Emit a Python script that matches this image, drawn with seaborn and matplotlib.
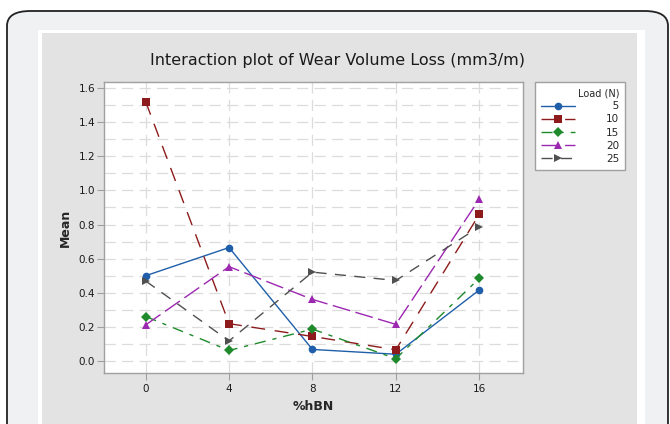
import matplotlib
matplotlib.use("Agg")
import matplotlib.pyplot as plt
from matplotlib.patches import FancyBboxPatch, Rectangle
from matplotlib.ticker import MultipleLocator
import seaborn as sns
import pandas as pd

hbn = [0, 4, 8, 12, 16]
loads = ["5", "10", "15", "20", "25"]
mean_5 = [0.50, 0.665, 0.068, 0.040, 0.416]
mean_10 = [1.52, 0.219, 0.144, 0.066, 0.859]
mean_15 = [0.261, 0.062, 0.187, 0.014, 0.484]
mean_20 = [0.212, 0.553, 0.361, 0.215, 0.948]
mean_25 = [0.469, 0.118, 0.521, 0.472, 0.786]
series = [mean_5, mean_10, mean_15, mean_20, mean_25]

rows = []
for ld, vals in zip(loads, series):
    for x, v in zip(hbn, vals):
        rows.append({"%hBN": x, "Mean": v, "Load": ld})
df = pd.DataFrame(rows)

palette = {"5": "#1F5FAA", "10": "#8E1B1B", "15": "#1E8A2B", "20": "#9C27B0", "25": "#505050"}
markers = {"5": "o", "10": "s", "15": "D", "20": "^", "25": ">"}
dashes = {"5": "", "10": (10, 7), "15": (8, 5, 3, 5), "20": (13, 4), "25": (8, 6)}

sns.set_style("white")
plt.rcParams["font.family"] = ["DejaVu Sans"]

W, H = 670, 424
fig = plt.figure(figsize=(W / 100, H / 100), dpi=100)
fig.patch.set_facecolor("white")

def fx(px):
    return px / W

def fy(py):
    return 1 - py / H

# card background with rounded border
card = FancyBboxPatch((fx(7), fy(440)), fx(668) - fx(7), fy(11) - fy(440),
                      boxstyle="round,pad=0,rounding_size=0.035",
                      transform=fig.transFigure, facecolor="#f0f1f3",
                      edgecolor="#222222", linewidth=1.3, zorder=0)
fig.patches.append(card)
fig.patches.append(Rectangle((fx(38), 0), fx(645) - fx(38), fy(30), transform=fig.transFigure,
                             facecolor="white", edgecolor="none", zorder=0.5))
fig.patches.append(Rectangle((fx(42), 0), fx(637) - fx(42), fy(33), transform=fig.transFigure,
                             facecolor="#e3e3e3", edgecolor="none", zorder=0.6))

ax = fig.add_axes([fx(104), fy(373), fx(523) - fx(104), fy(82) - fy(373)])
ax.set_zorder(3)
ax.set_facecolor("white")

sns.lineplot(data=df, x="%hBN", y="Mean", hue="Load", style="Load",
             hue_order=loads, style_order=loads, palette=palette,
             markers=markers, dashes=dashes, markersize=5.5, linewidth=1.0,
             markeredgewidth=0, legend=False, ax=ax)

ax.set_xlim(-2.0, 18.1)
ax.set_ylim(-0.070, 1.635)
ax.set_xticks(hbn)
ax.set_xticklabels([str(v) for v in hbn])
ax.yaxis.set_major_locator(MultipleLocator(0.2))
ax.yaxis.set_minor_locator(MultipleLocator(0.1))
ax.yaxis.set_major_formatter(matplotlib.ticker.FormatStrFormatter("%.1f"))
ax.grid(True, which="both", axis="y", color="#dcdcdc", linestyle=(0, (9, 5)), linewidth=0.9)
ax.grid(True, which="major", axis="x", color="#dcdcdc", linestyle=(0, (9, 5)), linewidth=0.9)
ax.set_axisbelow(True)
ax.tick_params(axis="both", which="major", direction="out", length=5, width=0.8,
               color="#a0a0a0", labelsize=7.5, labelcolor="#1a1a1a", pad=1.5, left=True, bottom=True)
ax.tick_params(axis="x", which="major", pad=3)
ax.tick_params(axis="y", which="minor", length=0, left=False)
for s in ax.spines.values():
    s.set_color("#a0a0a0")
    s.set_linewidth(1.0)

ax.set_xlabel("%hBN", fontsize=9, fontweight="bold", labelpad=4)
ax.set_ylabel("Mean", fontsize=9, fontweight="bold", labelpad=5)

fig.text(fx(337), fy(60), "Interaction plot of Wear Volume Loss (mm3/m)",
         ha="center", va="center", fontsize=11.5, color="#1a1a1a", zorder=4)

handles = ax.get_lines()[:5]
labels = ["\u2007" + l if len(l) == 1 else l for l in loads]
leg = fig.legend(handles, labels, title="Load (N)", loc="upper left",
                 bbox_to_anchor=(fx(535), fy(82)),
                 frameon=True, fancybox=False, fontsize=7.5,
                 title_fontsize=7, handlelength=3.2, handletextpad=3.0,
                 labelspacing=0.3, borderpad=0.6, alignment="right", borderaxespad=0,
                 framealpha=1, facecolor="white")
leg.set_zorder(5)
leg.get_frame().set_edgecolor("#a0a0a0")
leg.get_frame().set_linewidth(1.0)

fig.savefig("out.png", dpi=100, facecolor=fig.get_facecolor())
